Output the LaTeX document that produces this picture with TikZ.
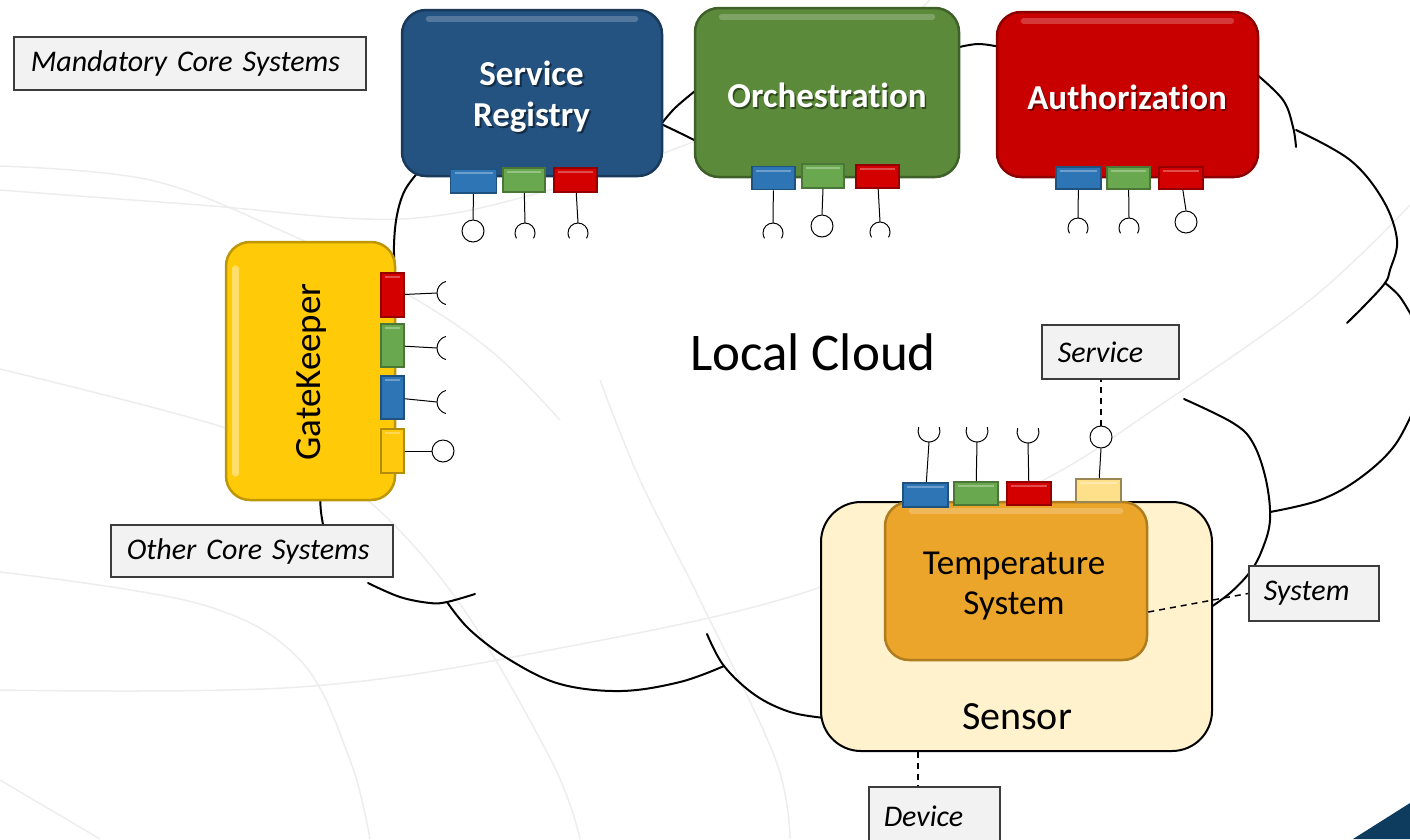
\documentclass[tikz,border=0pt]{standalone}
\usepackage{fontspec}
\setmainfont{Carlito}[Ligatures=CommonOff]
\usetikzlibrary{calc}

\definecolor{srblue}{HTML}{245382}
\definecolor{orgreen}{HTML}{5A8A3A}
\definecolor{aured}{HTML}{C80000}
\definecolor{gkyellow}{HTML}{FFCA08}
\definecolor{tsorange}{HTML}{EBA52A}
\definecolor{sensorfill}{HTML}{FFF2CC}
\definecolor{pblue}{HTML}{2E75B6}
\definecolor{pgreen}{HTML}{6AA84F}
\definecolor{pred}{HTML}{D40000}
\definecolor{pyellow}{HTML}{FFC90E}
\definecolor{plight}{HTML}{FFE08A}
\definecolor{labelfill}{HTML}{F2F2F2}
\definecolor{labelline}{HTML}{3C3C3C}
\definecolor{faint}{HTML}{EDEDED}
\definecolor{navy}{HTML}{0D3C5E}

\tikzset{
  sysbox/.style={rectangle, rounded corners=24pt, inner sep=0pt, line width=2.5pt},
  port/.style={rectangle, inner sep=0pt, line width=1.6pt,
    path picture={\draw[white, opacity=0.3, line width=2pt]
      ([xshift=4pt,yshift=-4pt]path picture bounding box.north west) --
      ([xshift=-4pt,yshift=-4pt]path picture bounding box.north east);}},
  ball/.style={circle, draw=black, fill=white, line width=1pt, minimum size=22pt, inner sep=0pt},
  wire/.style={line width=1pt},
  cloudline/.style={line width=2pt, line cap=round},
  bgarc/.style={faint, line width=1.5pt},
  tag/.style={rectangle, draw=labelline, fill=labelfill, line width=1.5pt, anchor=west,
    align=left, inner ysep=0pt, font=\fontsize{30}{36}\selectfont\itshape},
  link/.style={line width=1.5pt, dash pattern=on 6pt off 5pt},
  boldlabel/.style={text=white, font=\fontsize{35}{41}\selectfont\bfseries, align=center},
  boldshade/.style={text=black, opacity=0.45, font=\fontsize{35}{41}\selectfont\bfseries, align=center},
  gloss/.style={white, opacity=0.22, line width=6pt, line cap=round},
}

\begin{document}
\begin{tikzpicture}[x=1pt, y=-1pt]
\useasboundingbox (0,0) rectangle (1410,839);

% faint background swirl
\draw[bgarc] plot[smooth, tension=0.6] coordinates {(0,190) (200,205) (400,219) (550,190) (690,143) (840,75) (930,0)};
\draw[bgarc] plot[smooth, tension=0.6] coordinates {(0,166) (150,180) (280,230) (400,290) (490,350) (560,420)};
\draw[bgarc] plot[smooth, tension=0.6] coordinates {(0,369) (226,428) (340,478) (450,590) (550,758) (580,839)};
\draw[bgarc] plot[smooth, tension=0.6] coordinates {(0,572) (200,604) (300,660) (350,760) (370,839)};
\draw[bgarc] plot[smooth, tension=0.6] coordinates {(0,690) (300,687) (550,650) (821,587) (1040,482) (1150,412) (1310,300) (1410,205)};
\draw[bgarc] plot[smooth, tension=0.6] coordinates {(600,380) (640,480) (700,600) (775,758) (790,839)};
\draw[bgarc] plot[smooth, tension=0.6] coordinates {(0,780) (100,839)};

% local cloud outline
\draw[cloudline] plot[smooth, tension=0.6] coordinates {(420,170) (405,190) (397,215) (394,245) (395,278)};
\draw[cloudline] plot[smooth, tension=0.6] coordinates {(320,495) (321,512) (324,530)};
\draw[cloudline] plot[smooth, tension=0.6] coordinates {(368,583) (400,597) (430,603) (447,602) (475,594)};
\draw[cloudline] plot[smooth, tension=0.6] coordinates {(447,602) (470,630) (510,660) (560,684) (621,691) (680,682) (724,666)};
\draw[cloudline] plot[smooth, tension=0.6] coordinates {(707,634) (724,666) (755,695) (790,712) (825,718)};
\draw[cloudline] plot[smooth, tension=0.6] coordinates {(1184,399) (1233,423) (1253,443) (1266,480) (1270,520) (1262,550) (1250,572) (1230,593) (1208,609)};
\draw[cloudline] plot[smooth, tension=0.6] coordinates {(1270,512) (1320,500) (1360,478) (1395,445) (1418,400)};
\draw[cloudline] plot[smooth, tension=0.6] coordinates {(1385,283) (1400,297) (1415,322)};
\draw[cloudline] plot[smooth, tension=0.6] coordinates {(1296,130) (1350,160) (1383,200) (1397,240) (1390,270) (1385,283) (1367,303) (1347,323)};
\draw[cloudline] plot[smooth, tension=0.6] coordinates {(1255,73) (1283,100) (1293,127) (1296,147)};
\draw[cloudline] plot[smooth, tension=0.6] coordinates {(955,48) (978,44) (1000,47)};
\draw[cloudline] plot[smooth, tension=0.6] coordinates {(659,127) (675,108) (700,87)};
\draw[cloudline] plot[smooth, tension=0.6] coordinates {(659,123) (680,133) (700,143)};

% device
\node[rectangle, rounded corners=40pt, fill=sensorfill, draw=black, line width=2pt,
      minimum width=391pt, minimum height=249pt, inner sep=0pt] (sensor) at (1016.5,626.5) {};
\node[font=\fontsize{40}{48}\selectfont] (sensortext) at (1017,717) {Sensor};

% mandatory core systems
\node[sysbox, fill=srblue, draw=srblue!70!black, minimum width=260pt, minimum height=166pt] (sr) at (532,93) {};
\node[sysbox, fill=orgreen, draw=orgreen!70!black, minimum width=264pt, minimum height=169pt] (orch) at (827,92.5) {};
\node[sysbox, fill=aured, draw=aured!70!black, minimum width=261pt, minimum height=165pt] (auth) at (1127.5,94.5) {};
\draw[gloss] ([xshift=28pt,yshift=-10pt]sr.north west) -- ([xshift=-28pt,yshift=-10pt]sr.north east);
\draw[gloss] ([xshift=28pt,yshift=-10pt]orch.north west) -- ([xshift=-28pt,yshift=-10pt]orch.north east);
\draw[gloss] ([xshift=28pt,yshift=-10pt]auth.north west) -- ([xshift=-28pt,yshift=-10pt]auth.north east);

\node[boldshade] (srshade) at (533.5,99) {Service\\Registry};
\node[boldlabel] (srtext) at (531.5,97) {Service\\Registry};
\node[boldshade] (orchshade) at (828.5,97) {Orchestration};
\node[boldlabel] (orchtext) at (827,95) {Orchestration};
\node[boldshade] (authshade) at (1128.5,99) {Authorization};
\node[boldlabel] (authtext) at (1127,97) {Authorization};

% other core system
\node[sysbox, fill=gkyellow, draw=gkyellow!75!black, minimum width=169pt, minimum height=258pt] (gk) at (310.5,371) {};
\draw[gloss, opacity=0.4, line width=7pt] ([xshift=11pt,yshift=-28pt]gk.north west) -- ([xshift=11pt,yshift=28pt]gk.south west);
\node[rotate=90, font=\fontsize{37}{40}\selectfont] (gktext) at (311,372) {GateKeeper};

% application system
\node[sysbox, fill=tsorange, draw=tsorange!75!black, minimum width=262pt, minimum height=158pt] (temp) at (1016,581) {};
\draw[gloss] ([xshift=28pt,yshift=-10pt]temp.north west) -- ([xshift=-28pt,yshift=-10pt]temp.north east);
\node[font=\fontsize{35}{40}\selectfont, align=center] (temptext) at (1014,586) {Temperature\\System};

% service ports
\node[port, fill=pblue, draw=pblue!70!black, minimum width=46pt, minimum height=24pt] (sr1) at (473.5,181) {};
\node[port, fill=pgreen, draw=pgreen!70!black, minimum width=42pt, minimum height=24pt] (sr2) at (524,180) {};
\node[port, fill=pred, draw=pred!70!black, minimum width=43pt, minimum height=24pt] (sr3) at (575.5,180) {};

\node[port, fill=pblue, draw=pblue!70!black, minimum width=43pt, minimum height=23pt] (or1) at (773.5,178) {};
\node[port, fill=pgreen, draw=pgreen!70!black, minimum width=42pt, minimum height=24pt] (or2) at (823,176) {};
\node[port, fill=pred, draw=pred!70!black, minimum width=43pt, minimum height=23pt] (or3) at (877.5,176.5) {};

\node[port, fill=pblue, draw=pblue!70!black, minimum width=45pt, minimum height=22pt] (au1) at (1078.5,178) {};
\node[port, fill=pgreen, draw=pgreen!70!black, minimum width=43pt, minimum height=22pt] (au2) at (1128.5,178) {};
\node[port, fill=pred, draw=pred!70!black, minimum width=44pt, minimum height=22pt] (au3) at (1181,178) {};

\node[port, fill=pred, draw=pred!70!black, minimum width=23pt, minimum height=44pt] (gk1) at (392.5,295) {};
\node[port, fill=pgreen, draw=pgreen!70!black, minimum width=23pt, minimum height=43pt] (gk2) at (392.5,345.5) {};
\node[port, fill=pblue, draw=pblue!70!black, minimum width=23pt, minimum height=43pt] (gk3) at (392.5,397.5) {};
\node[port, fill=pyellow, draw=pyellow!70!black, minimum width=23pt, minimum height=44pt] (gk4) at (392.5,451) {};

\node[port, fill=pblue, draw=pblue!70!black, minimum width=45pt, minimum height=24pt] (ts1) at (925.5,495) {};
\node[port, fill=pgreen, draw=pgreen!70!black, minimum width=44pt, minimum height=23pt] (ts2) at (976,493.5) {};
\node[port, fill=pred, draw=pred!70!black, minimum width=44pt, minimum height=23pt] (ts3) at (1029,493.5) {};
\node[port, fill=plight, draw=plight!60!black, minimum width=45pt, minimum height=23pt] (ts4) at (1098.5,490.5) {};

% provided services (balls) and consumed services (sockets)
\node[ball] (srb1) at (473,231) {};
\coordinate (srs2) at (525,223);
\coordinate (srs3) at (578,223);
\draw[wire] (sr1.south) -- (srb1.north);
\draw[wire] (sr2) -- (srs2);
\draw[wire] (sr3) -- (srs3);

\coordinate (ors1) at (773,223);
\node[ball] (orb2) at (822,226) {};
\coordinate (ors3) at (880,222);
\draw[wire] (or1) -- (ors1);
\draw[wire] (or2.south) -- (orb2.north);
\draw[wire] (or3) -- (ors3);

\coordinate (aus1) at (1078,218);
\coordinate (aus2) at (1129,218);
\node[ball] (aub3) at (1186,222) {};
\draw[wire] (au1) -- (aus1);
\draw[wire] (au2) -- (aus2);
\draw[wire] (au3) -- (aub3.north);

\foreach \s in {srs2,srs3,ors1,ors3,aus1,aus2}{
  \draw[wire] (\s) arc[start angle=90, end angle=212, radius=10pt]
              (\s) arc[start angle=90, end angle=-32, radius=10pt];
}

\coordinate (gks1) at (437,293);
\coordinate (gks2) at (437,348);
\coordinate (gks3) at (437,402);
\node[ball] (gkb4) at (443,451) {};
\draw[wire] (gk1) -- (gks1);
\draw[wire] (gk2) -- (gks2);
\draw[wire] (gk3) -- (gks3);
\draw[wire] (gk4) -- (gkb4.west);
\foreach \s in {gks1,gks2,gks3}{
  \draw[wire] (\s) arc[start angle=180, end angle=105, radius=12pt]
              (\s) arc[start angle=180, end angle=255, radius=12pt];
}

\coordinate (tss1) at (929,442);
\coordinate (tss2) at (977,442);
\coordinate (tss3) at (1028,443);
\node[ball] (tsb4) at (1101,437) {};
\draw[wire] (ts1) -- (tss1);
\draw[wire] (ts2) -- (tss2);
\draw[wire] (ts3) -- (tss3);
\draw[wire] (ts4) -- (tsb4.south);
\foreach \s in {tss1,tss2,tss3}{
  \draw[wire] (\s) arc[start angle=270, end angle=159, radius=11pt]
              (\s) arc[start angle=270, end angle=381, radius=11pt];
}

% legend tags
\node[tag, inner xsep=17pt, text width=318pt, minimum height=53pt] (mand) at (13,63.5) {Mandatory Core Systems};
\node[tag, inner xsep=16pt, text width=250pt, minimum height=52pt] (other) at (110,551) {Other Core Systems};
\node[tag, inner xsep=16pt, text width=105pt, minimum height=54pt] (svc) at (1041,352) {Service};
\node[tag, inner xsep=15pt, text width=100pt, minimum height=55pt] (sys) at (1248,593.5) {System};
\node[tag, inner xsep=15pt, text width=101pt, minimum height=58pt] (dev) at (868,816) {Device};

\draw[link] (tsb4.north) -- (tsb4.north |- svc.south);
\draw[link] ([yshift=-31pt]temp.east) -- (sys.west);
\coordinate (devtop) at ([xshift=-16.5pt]dev.north);
\draw[link] (devtop |- sensor.south) -- (devtop);

% corner accent
\fill[navy] (1353,839) -- (1410,803) -- (1410,839) -- cycle;

% cloud name
\node[font=\fontsize{53}{60}\selectfont] (cloudname) at (813,352) {Local Cloud};
\end{tikzpicture}
\end{document}
